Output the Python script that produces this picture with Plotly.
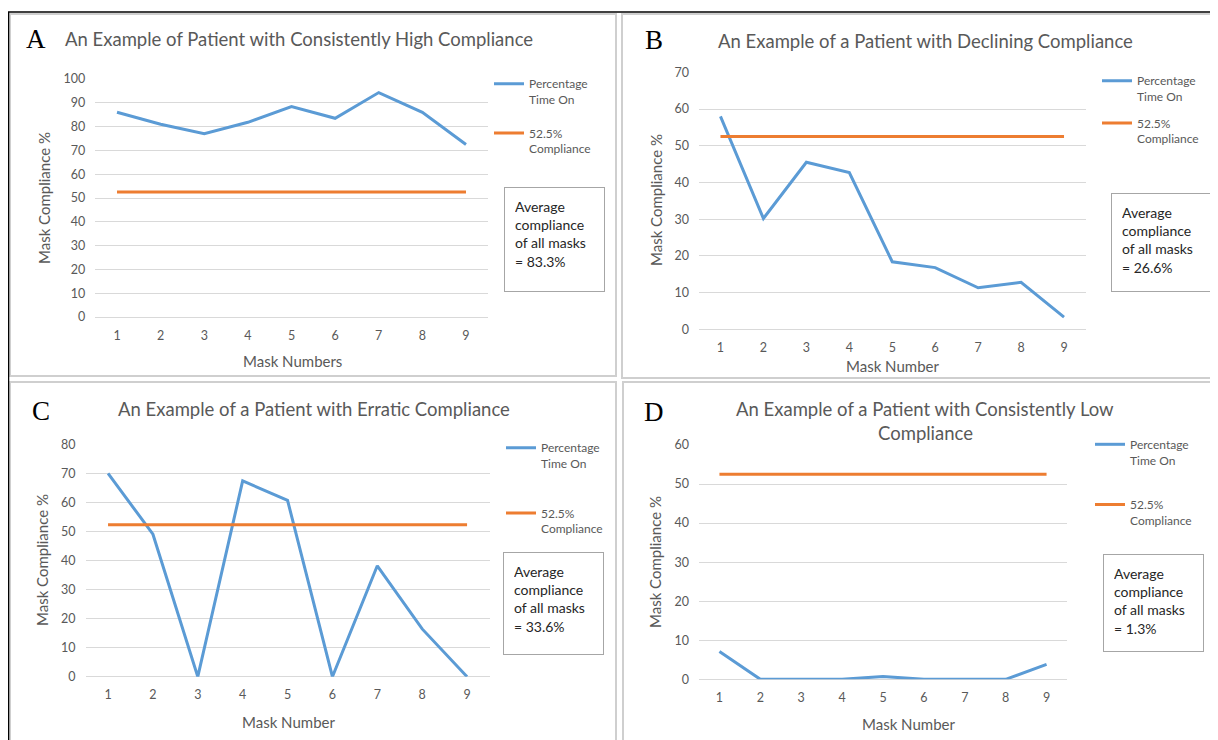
import plotly.graph_objects as go

# The page body has an 8px default margin; the figure is sized/positioned so
# that reference pixel coordinates map 1:1 onto the screenshot.
OFF = 8
W, H = 1218 - OFF, 740 - OFF

masks = [1, 2, 3, 4, 5, 6, 7, 8, 9]
threshold = 52.5

a_values = [86, 81, 77, 81.8, 88.4, 83.5, 94.3, 86, 72.5]
b_values = [58, 30.2, 45.5, 42.7, 18.4, 16.8, 11.3, 12.8, 3.3]
c_values = [70.2, 49.2, 0, 67.6, 60.9, 0, 38.3, 16.5, 0]
d_values = [7.1, 0, 0, 0, 0.7, 0, 0, 0, 3.8]

titles = [
    "An Example of Patient with Consistently High Compliance",
    "An Example of a Patient with Declining Compliance",
    "An Example of a Patient with Erratic Compliance",
    "An Example of a Patient with Consistently Low",
]
d_title_line2 = "Compliance"
letters = ["A", "B", "C", "D"]
x_titles = ["Mask Numbers", "Mask Number", "Mask Number", "Mask Number"]
y_title = "Mask Compliance %"
averages = ["83.3%", "26.6%", "33.6%", "1.3%"]
y_maxes = [100, 70, 80, 60]
series_names = ["Percentage<br>Time On", "52.5%<br>Compliance"]

BLUE = "#5b9bd5"
ORANGE = "#ed7d31"
GRID = "#d9d9d9"
TXT = "#595959"
FONT = "Lato"

# plot-area pixel boxes: (x_left, x_right, y_top, y_bottom)
areas = [
    (95.2, 487.8, 79.0, 317.0),
    (699.0, 1085.5, 72.3, 329.3),
    (85.6, 489.5, 445.0, 676.7),
    (699.0, 1067.0, 445.0, 679.3),
]
# legend anchor (x of line start, y of first entry centre), gap
legends = [(489, 79.5, 15), (1097, 76.5, 8), (501, 443.5, 31), (1090, 440, 26)]
# average box (x0, y0, x1, y1) pixels
boxes = [
    (504, 187, 605, 292),
    (1111, 193, 1212, 292),
    (503, 552, 604, 655),
    (1103, 554, 1204, 652),
]
title_pos = [(299, 39), (925, 41), (314, 409), (925, 409)]
letter_pos = [(36, 39), (654, 40), (41, 411), (654, 412)]
ytitle_pos = [(44, 198), (656, 200), (42, 560), (655, 562)]
xtitle_pos = [(292, 361), (892, 366), (288, 722), (908, 724)]


def px(x):
    return (x - OFF) / W


def py(y):
    return 1 - (y - OFF) / H


fig = go.Figure()
data = [a_values, b_values, c_values, d_values]
layout = {}
annotations = []
shapes = []

for i in range(4):
    n = "" if i == 0 else str(i + 1)
    xa, ya = "x" + n, "y" + n
    leg = "legend" + n
    x0, x1, yt, yb = areas[i]
    fig.add_trace(go.Scatter(
        x=masks, y=data[i], mode="lines", name=series_names[0],
        line=dict(color=BLUE, width=3), xaxis=xa, yaxis=ya,
        legend=leg, legendgroup="p%d" % i, hoverinfo="x+y"))
    fig.add_trace(go.Scatter(
        x=masks, y=[threshold] * len(masks), mode="lines", name=series_names[1],
        line=dict(color=ORANGE, width=3), xaxis=xa, yaxis=ya,
        legend=leg, legendgroup="q%d" % i, hoverinfo="x+y"))
    layout["xaxis" + n] = dict(
        domain=[px(x0), px(x1)], range=[0.5, 9.5], anchor=ya,
        tickmode="array", tickvals=masks, ticktext=[str(m) for m in masks],
        showgrid=False, zeroline=False, showline=False, ticks="",
        ticklabelstandoff=9, tickfont=dict(family=FONT, size=12.5, color=TXT),
        automargin=False, fixedrange=True)
    layout["yaxis" + n] = dict(
        domain=[py(yb), py(yt)], range=[0, y_maxes[i]], anchor=xa,
        dtick=10, tick0=0, showgrid=True, gridcolor=GRID, gridwidth=1,
        zeroline=True, zerolinecolor=GRID, zerolinewidth=1,
        showline=False, ticks="", ticklabelstandoff=9,
        tickfont=dict(family=FONT, size=12.5, color=TXT),
        automargin=False, fixedrange=True)
    lx, ly, gap = legends[i]
    layout[leg] = dict(
        x=px(lx), y=py(ly - 10), xanchor="left", yanchor="top",
        bgcolor="rgba(0,0,0,0)", borderwidth=0, valign="top",
        traceorder="grouped", tracegroupgap=gap, itemwidth=30,
        font=dict(family=FONT, size=12, color=TXT))
    bx0, by0, bx1, by1 = boxes[i]
    annotations.append(dict(
        xref="paper", yref="paper", x=px(bx0), y=py(by0),
        xanchor="left", yanchor="top", showarrow=False,
        text="Average<br>compliance<br>of all masks<br>= " + averages[i],
        align="left", valign="top", width=bx1 - bx0 - 22, height=by1 - by0 - 22,
        borderpad=10, bordercolor="#a6a6a6", borderwidth=1,
        font=dict(family=FONT, size=14, color="#262626")))
    tx, ty = title_pos[i]
    annotations.append(dict(
        xref="paper", yref="paper", x=px(tx), y=py(ty), xanchor="center",
        yanchor="middle", showarrow=False, text=titles[i],
        font=dict(family=FONT, size=18.5, color=TXT)))
    lx_, ly_ = letter_pos[i]
    annotations.append(dict(
        xref="paper", yref="paper", x=px(lx_), y=py(ly_), xanchor="center",
        yanchor="middle", showarrow=False, text=letters[i],
        font=dict(family="Liberation Serif", size=27, color="black")))
    yx, yy = ytitle_pos[i]
    annotations.append(dict(
        xref="paper", yref="paper", x=px(yx), y=py(yy), xanchor="center",
        yanchor="middle", showarrow=False, text=y_title, textangle=-90,
        font=dict(family=FONT, size=15, color=TXT)))
    xx, xy = xtitle_pos[i]
    annotations.append(dict(
        xref="paper", yref="paper", x=px(xx), y=py(xy), xanchor="center",
        yanchor="middle", showarrow=False, text=x_titles[i],
        font=dict(family=FONT, size=15, color=TXT)))

annotations.append(dict(
    xref="paper", yref="paper", x=px(925), y=py(433), xanchor="center",
    yanchor="middle", showarrow=False, text=d_title_line2,
    font=dict(family=FONT, size=18.5, color=TXT)))

# panel frames
panel_boxes = [(10, 14, 616, 376), (622, 14, 1222, 378),
               (10, 382, 616, 745), (623, 382, 1222, 745)]
for (x0, y0, x1, y1) in panel_boxes:
    shapes.append(dict(type="rect", xref="paper", yref="paper",
                       x0=px(x0), x1=px(x1), y0=py(y1), y1=py(y0),
                       line=dict(color="#cfcfcf", width=2), layer="below"))
# outer black frame (top and left)
shapes.append(dict(type="line", xref="paper", yref="paper",
                   x0=px(8), x1=px(1222), y0=py(12), y1=py(12),
                   line=dict(color="black", width=1.5)))
shapes.append(dict(type="line", xref="paper", yref="paper",
                   x0=px(8.5), x1=px(8.5), y0=py(12), y1=py(745),
                   line=dict(color="black", width=1.5)))

fig.update_layout(**layout)
fig.update_layout(
    width=W, height=H,
    margin=dict(l=0, r=0, t=0, b=0, pad=0, autoexpand=False),
    paper_bgcolor="white", plot_bgcolor="white",
    annotations=annotations, shapes=shapes, showlegend=True,
    font=dict(family=FONT, color=TXT))

fig.write_html("out.html", include_plotlyjs=True, config={"displayModeBar": False})
